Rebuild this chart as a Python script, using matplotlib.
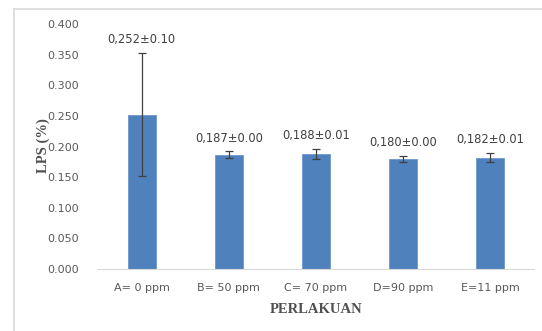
import matplotlib.pyplot as plt
from matplotlib.lines import Line2D
import numpy as np

categories = ["A= 0 ppm", "B= 50 ppm", "C= 70 ppm", "D=90 ppm", "E=11 ppm"]
lps = [0.252, 0.187, 0.188, 0.180, 0.182]
err = [0.100, 0.005, 0.0085, 0.0045, 0.007]
labels = ["0,252±0.10", "0,187±0.00", "0,188±0.01", "0,180±0.00", "0,182±0.01"]
yticks = [0.0, 0.05, 0.10, 0.15, 0.20, 0.25, 0.30, 0.35, 0.40]

fig = plt.figure(figsize=(5.42, 3.31), dpi=100)
ax = fig.add_axes([0.181, 0.187, 0.804, 0.7405])

x = np.arange(len(categories))
ax.bar(x, lps, width=0.32, color="#4F81BD", edgecolor="#6F97C9", linewidth=0.6, zorder=2)
ax.errorbar(x, lps, yerr=err, fmt="none", ecolor="#404040",
            elinewidth=0.9, capsize=3, capthick=0.9, zorder=3)

for xi, v, e, lab in zip(x, lps, err, labels):
    ax.annotate(lab, (xi, v + e), xytext=(0, 5), textcoords="offset points",
                ha="center", va="bottom", fontsize=8.3, color="#404040")

ax.set_xlim(-0.5, len(categories) - 0.5)
ax.set_ylim(0, 0.4)
ax.set_yticks(yticks)
ax.set_yticklabels([f"{t:.3f}" for t in yticks])
ax.set_xticks(x)
ax.set_xticklabels(categories)
ax.tick_params(axis="both", length=0, labelsize=8, labelcolor="#595959")
ax.tick_params(axis="y", pad=14)
ax.tick_params(axis="x", pad=10)

for s in ["top", "right", "left"]:
    ax.spines[s].set_visible(False)
ax.spines["bottom"].set_color("#D9D9D9")

ax.set_xlabel("PERLAKUAN", fontfamily="Liberation Serif", fontweight="bold",
              fontsize=10.5, color="#505050", labelpad=7)
fig.text(43 / 542, 1 - 146 / 331, "LPS (%)", rotation=90, ha="center", va="center",
         fontfamily="Liberation Serif", fontweight="bold", fontsize=10.5, color="#505050")

# light grey chart frame (only top and left edges visible in the crop)
fx, fy = 13.5 / 542, 1 - 8.5 / 331
fig.add_artist(Line2D([fx, 1], [fy, fy], transform=fig.transFigure,
                      color="#D9D9D9", linewidth=1.2))
fig.add_artist(Line2D([fx, fx], [0, fy], transform=fig.transFigure,
                      color="#D9D9D9", linewidth=1.2))

fig.savefig("out.png", dpi=100)
